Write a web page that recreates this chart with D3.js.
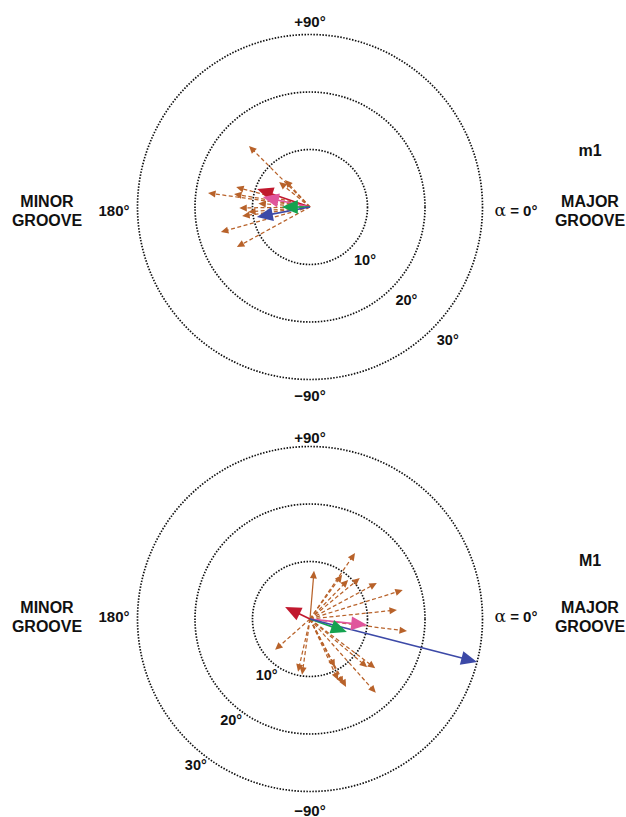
<!DOCTYPE html>
<html>
<head>
<meta charset="utf-8">
<script src="https://cdn.jsdelivr.net/npm/d3@7"></script>
<style>
  html, body { margin: 0; padding: 0; background: #fff; }
  svg text { font-family: "Liberation Sans", Arial, Helvetica, sans-serif; font-weight: bold; fill: #111; }
</style>
</head>
<body>
<svg id="chart" width="626" height="817"></svg>
<script>
// Helix-axis tilt vectors: each vector is [tilt (deg), direction alpha (deg)],
// alpha = 0 points to the major groove, 180 to the minor groove, +90 up.
const ringValues = [10, 20, 30];
const ringLabels = ["10°", "20°", "30°"];
const colorSeries = ["red", "pink", "green", "blue"];
const seriesColors = ["#c1182e", "#e0559c", "#14a24f", "#3c49a7"];

// Panel m1
const m1Colored = [[9.7, 161.2], [8.4, 168.0], [4.9, 180.0], [9.4, 190.7]];
const m1Individual = [
  [15.0, 135.0], [17.9, 172.2], [13.3, 164.9], [13.4, 170.3], [6.9, 141.1],
  [6.4, 132.8], [12.3, 180.8], [11.9, 187.5], [16.1, 195.7], [14.5, 208.7],
  [10.8, 184.6], [9.0, 176.0]
];
const m1SolidIndividual = [];

// Panel M1
const M1Colored = [[4.8, 154.4], [10.0, -6.0], [6.8, -19.4], [30.0, -14.4]];
const M1Individual = [
  [13.9, 55.7], [9.5, 54.0], [9.5, 45.7], [11.2, 39.4], [13.2, 28.3],
  [16.9, 17.3], [15.2, 5.9], [17.0, -7.1], [8.1, -138.5], [9.4, -102.8],
  [9.8, -98.1], [11.7, -65.3], [12.7, -63.1], [9.4, -62.5], [13.0, -40.1],
  [14.2, -37.0], [17.2, -48.3], [13.4, -62.1]
];
const M1SolidIndividual = [[8.4, 85.2]];

const panels = [
  { name: "m1", cx: 310, cy: 207, colored: m1Colored, individual: m1Individual, solid: m1SolidIndividual,
    ringLabelAngle: -44, ringLabelGap: 19, nameY: 150, labelY: 210, top: 21, bottom: 395 },
  { name: "M1", cx: 310, cy: 619, colored: M1Colored, individual: M1Individual, solid: M1SolidIndividual,
    ringLabelAngle: -128, ringLabelGap: 13, nameY: 560, labelY: 616, top: 437, bottom: 810 }
];

const svg = d3.select("#chart");
const r = d3.scaleLinear().domain([0, 30]).range([0, 172.5]);
const brown = "#b8622a";

function tip(p, v) {
  const a = v[1] * Math.PI / 180;
  return [p.cx + r(v[0]) * Math.cos(a), p.cy - r(v[0]) * Math.sin(a)];
}
function headPath(p, v, len, half) {
  const [x, y] = tip(p, v);
  const a = v[1] * Math.PI / 180;
  const ux = Math.cos(a), uy = -Math.sin(a);
  const bx = x - ux * len, by = y - uy * len;
  const px = -uy, py = ux;
  return `M${x},${y}L${bx + px * half},${by + py * half}L${bx - px * half},${by - py * half}Z`;
}

panels.forEach(p => {
  const g = svg.append("g");

  // dotted rings
  g.selectAll("circle.ring").data(ringValues).join("circle")
    .attr("cx", p.cx).attr("cy", p.cy).attr("r", d => r(d))
    .attr("fill", "none").attr("stroke", "#111").attr("stroke-width", 1.7)
    .attr("stroke-dasharray", "1.5,1.5");

  // ring labels
  const la = p.ringLabelAngle * Math.PI / 180;
  g.selectAll("text.ring").data(ringValues).join("text")
    .attr("x", d => p.cx + (r(d) + p.ringLabelGap) * Math.cos(la))
    .attr("y", d => p.cy - (r(d) + p.ringLabelGap) * Math.sin(la))
    .attr("text-anchor", "middle").attr("dominant-baseline", "central")
    .attr("font-size", 14.5)
    .text((d, i) => ringLabels[i]);

  // axis labels
  g.append("text").attr("x", p.cx).attr("y", p.top).attr("text-anchor", "middle")
    .attr("dominant-baseline", "central").attr("font-size", 15).text("+90°");
  g.append("text").attr("x", p.cx).attr("y", p.bottom).attr("text-anchor", "middle")
    .attr("dominant-baseline", "central").attr("font-size", 15).text("−90°");
  g.append("text").attr("x", 114).attr("y", p.labelY).attr("text-anchor", "middle")
    .attr("dominant-baseline", "central").attr("font-size", 15).text("180°");
  const al = g.append("text").attr("x", 516).attr("y", p.labelY).attr("text-anchor", "middle")
    .attr("dominant-baseline", "central").attr("font-size", 15);
  al.append("tspan").attr("font-family", "DejaVu Serif").attr("font-weight", "normal").attr("font-size", 17).text("α");
  al.append("tspan").text(" = 0°");

  [["MINOR", "GROOVE", 47], ["MAJOR", "GROOVE", 590]].forEach(([a, b, x]) => {
    g.append("text").attr("x", x).attr("y", p.labelY - 9).attr("text-anchor", "middle")
      .attr("dominant-baseline", "central").attr("font-size", 16).text(a);
    g.append("text").attr("x", x).attr("y", p.labelY + 10).attr("text-anchor", "middle")
      .attr("dominant-baseline", "central").attr("font-size", 16).text(b);
  });
  g.append("text").attr("x", 590).attr("y", p.nameY).attr("text-anchor", "middle")
    .attr("dominant-baseline", "central").attr("font-size", 16).text(p.name);

  // individual vectors (dashed)
  const ind = g.append("g");
  ind.selectAll("line.d").data(p.individual).join("line")
    .attr("x1", p.cx).attr("y1", p.cy)
    .attr("x2", d => tip(p, [d[0] - 0.8, d[1]])[0]).attr("y2", d => tip(p, [d[0] - 0.8, d[1]])[1])
    .attr("stroke", brown).attr("stroke-width", 1.25).attr("stroke-dasharray", "4,2.5");
  ind.selectAll("line.s").data(p.solid).join("line")
    .attr("x1", p.cx).attr("y1", p.cy)
    .attr("x2", d => tip(p, [d[0] - 0.8, d[1]])[0]).attr("y2", d => tip(p, [d[0] - 0.8, d[1]])[1])
    .attr("stroke", brown).attr("stroke-width", 1.25);
  ind.selectAll("path.h").data(p.individual.concat(p.solid)).join("path")
    .attr("d", d => headPath(p, d, 7.5, 3.5)).attr("fill", brown);

  // averaged vectors (solid, coloured)
  const col = g.append("g");
  col.selectAll("line").data(p.colored).join("line")
    .attr("x1", p.cx).attr("y1", p.cy)
    .attr("x2", d => tip(p, [d[0] - 1.5, d[1]])[0]).attr("y2", d => tip(p, [d[0] - 1.5, d[1]])[1])
    .attr("stroke", (d, i) => seriesColors[i]).attr("stroke-width", 1.7);
  col.selectAll("path").data(p.colored).join("path")
    .attr("d", d => headPath(p, d, 16, 7)).attr("fill", (d, i) => seriesColors[i]);
});
</script>
</body>
</html>
